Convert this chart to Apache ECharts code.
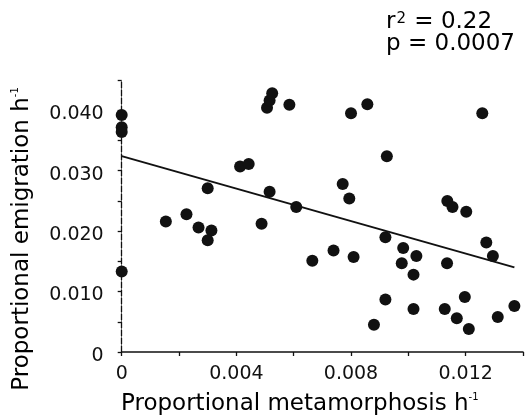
<!DOCTYPE html>
<html>
<head>
<meta charset="utf-8">
<script src="https://cdn.jsdelivr.net/npm/echarts@6/dist/echarts.min.js"></script>
<style>
html,body{margin:0;padding:0;background:#fff;}
#c{width:526px;height:416px;}
</style>
</head>
<body>
<div id="c"></div>
<script>
// Scatter data: proportional metamorphosis (x) vs proportional emigration (y)
var metamorphosis = [0, 0, 0, 0, 0.00154, 0.00226, 0.00268, 0.00313, 0.00300, 0.00300,
  0.00413, 0.00443, 0.00488, 0.00516, 0.00507, 0.00516, 0.00525, 0.00585, 0.00609, 0.00665,
  0.00739, 0.00809, 0.00771, 0.00794, 0.00800, 0.00857, 0.00925, 0.00920, 0.00920, 0.00880,
  0.00982, 0.00977, 0.01028, 0.01018, 0.01018, 0.01136, 0.01154, 0.01202, 0.01135, 0.01127,
  0.01197, 0.01169, 0.01211, 0.01258, 0.01272, 0.01295, 0.01312, 0.01370];
var emigration = [0.0392, 0.0372, 0.0364, 0.0133, 0.0216, 0.0228, 0.0206, 0.0201, 0.0185, 0.0271,
  0.0307, 0.0311, 0.0212, 0.0265, 0.0404, 0.0416, 0.0428, 0.0409, 0.0240, 0.0151,
  0.0168, 0.0157, 0.0278, 0.0254, 0.0395, 0.0410, 0.0324, 0.0190, 0.0087, 0.0045,
  0.0172, 0.0147, 0.0159, 0.0128, 0.0071, 0.0250, 0.0240, 0.0232, 0.0147, 0.0071,
  0.0091, 0.0056, 0.0038, 0.0395, 0.0181, 0.0159, 0.0058, 0.0076];
// Regression line end points
var fitX = [0, 0.0137];
var fitY = [0.0324, 0.0140];
// Tick labels
var xTickLabels = ['0', '0.004', '0.008', '0.012'];
var yTickLabels = ['0', '0.010', '0.020', '0.030', '0.040'];
var statR2 = '0.22';
var statP = '0.0007';

var FONT = 'DejaVu Sans';
var points = metamorphosis.map(function (x, i) { return [x, emigration[i]]; });
var fitLine = fitX.map(function (x, i) { return [x, fitY[i]]; });

var chart = echarts.init(document.getElementById('c'));
chart.setOption({
  animation: false,
  backgroundColor: '#fff',
  grid: { left: 121.7, right: 0.7, top: 80, bottom: 64 },
  xAxis: {
    type: 'value', min: 0, max: 0.014, interval: 0.002,
    splitLine: { show: false },
    axisLine: { lineStyle: { color: '#111', width: 1.5 } },
    axisTick: { length: 4, lineStyle: { color: '#111', width: 1.3 } },
    axisLabel: {
      margin: 13, color: '#111', fontFamily: FONT, fontSize: 19,
      formatter: function (v) {
        var k = Math.round(v / 0.004 * 1000) / 1000;
        if (Math.abs(k - Math.round(k)) < 1e-6 && Math.round(k) < xTickLabels.length) return xTickLabels[Math.round(k)];
        return '';
      }
    }
  },
  yAxis: {
    type: 'value', min: 0, max: 0.045, interval: 0.005,
    splitLine: { show: false },
    axisLine: { lineStyle: { color: '#111', width: 1.3, type: [6, 2] } },
    axisTick: { length: 4, lineStyle: { color: '#111', width: 1.3 } },
    axisLabel: {
      margin: 18, color: '#111', fontFamily: FONT, fontSize: 19,
      verticalAlign: 'top', lineHeight: 8,
      formatter: function (v) {
        var k = Math.round(v / 0.01 * 1000) / 1000;
        if (Math.abs(k - Math.round(k)) < 1e-6 && Math.round(k) < yTickLabels.length) return yTickLabels[Math.round(k)];
        return '';
      }
    }
  },
  series: [
    {
      type: 'scatter', data: points, symbolSize: 12, clip: false,
      itemStyle: { color: '#111', opacity: 1 }, z: 3
    },
    {
      type: 'line', data: fitLine, symbol: 'none', clip: false,
      lineStyle: { color: '#111', width: 2 }, z: 2
    }
  ],
  graphic: [
    {
      type: 'text', x: 121, y: 392,
      style: {
        text: '{a|Proportional metamorphosis h}{s|-1}',
        align: 'left', verticalAlign: 'top',
        rich: {
          a: { fontFamily: FONT, fontSize: 23, color: '#111', lineHeight: 24, verticalAlign: 'bottom' },
          s: { fontFamily: FONT, fontSize: 10, color: '#111', lineHeight: 10, verticalAlign: 'top' }
        }
      }
    },
    {
      type: 'text', x: 22, y: 239, rotation: Math.PI / 2,
      style: {
        text: '{a|Proportional emigration h}{s|-1}',
        align: 'center', verticalAlign: 'middle',
        rich: {
          a: { fontFamily: FONT, fontSize: 23, color: '#111', lineHeight: 24, verticalAlign: 'bottom' },
          s: { fontFamily: FONT, fontSize: 10, color: '#111', lineHeight: 10, verticalAlign: 'top' }
        }
      }
    },
    {
      type: 'text', x: 386, y: 12,
      style: {
        text: '{a|r}{s|2}{a| = ' + statR2 + '}\n{a|p = ' + statP + '}',
        align: 'left', verticalAlign: 'top',
        rich: {
          a: { fontFamily: FONT, fontSize: 23, color: '#111', lineHeight: 22, verticalAlign: 'bottom' },
          s: { fontFamily: FONT, fontSize: 15, color: '#111', lineHeight: 3, verticalAlign: 'top', padding: [0, 1, 0, 1] }
        }
      }
    }
  ]
});
</script>
</body>
</html>
